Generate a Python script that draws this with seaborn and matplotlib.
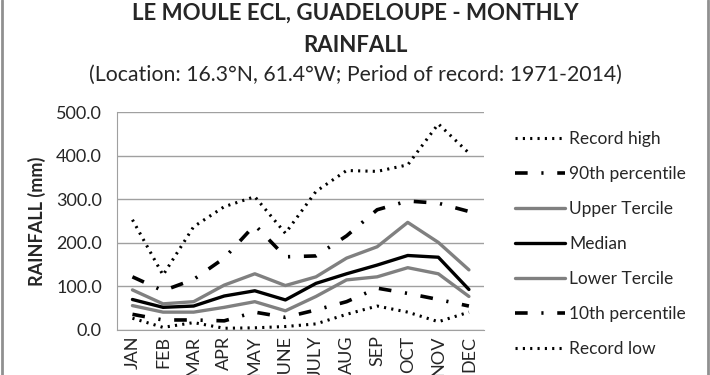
import pandas as pd
import seaborn as sns
import matplotlib.pyplot as plt
from matplotlib.lines import Line2D

# monthly values (mm)
months = ['JAN', 'FEB', 'MAR', 'APR', 'MAY', 'JUNE', 'JULY', 'AUG', 'SEP', 'OCT', 'NOV', 'DEC']
record_high = [253, 126, 237, 283, 306, 222, 318, 366, 364, 379, 473, 406]
pct90 = [122, 90, 116, 165, 241, 168, 170, 216, 276, 296, 291, 272]
upper_tercile = [92, 60, 65, 103, 129, 102, 122, 165, 191, 247, 201, 138]
median = [70, 52, 55, 78, 90, 69, 107, 129, 149, 171, 167, 93]
lower_tercile = [56, 41, 41, 52, 65, 44, 77, 115, 122, 143, 129, 77]
pct10 = [36, 23, 23, 21, 41, 29, 46, 65, 96, 84, 70, 55]
record_low = [27, 6, 17, 4, 5, 8, 14, 36, 55, 41, 19, 41]

series_names = ['Record high', '90th percentile', 'Upper Tercile', 'Median',
                'Lower Tercile', '10th percentile', 'Record low']
series_vals = [record_high, pct90, upper_tercile, median, lower_tercile, pct10, record_low]

df = pd.DataFrame({'Month': months * len(series_names),
                   'Series': [n for n in series_names for _ in months],
                   'Rainfall': [v for vals in series_vals for v in vals]})

sns.set_style('white')
plt.rcParams['font.family'] = ['Lato', 'DejaVu Sans']

# line look per series
styles = {
    'Record high': dict(color='black', lw=2.2, dashes=(0.7, 1.7)),
    '90th percentile': dict(color='black', lw=2.6, dashes=(3.5, 3.8, 0.6, 3.8)),
    'Upper Tercile': dict(color='#808080', lw=2.4, dashes=None),
    'Median': dict(color='black', lw=2.4, dashes=None),
    'Lower Tercile': dict(color='#808080', lw=2.4, dashes=None),
    '10th percentile': dict(color='black', lw=2.6, dashes=(3.5, 3.8, 0.6, 3.8)),
    'Record low': dict(color='black', lw=2.2, dashes=(0.7, 1.7)),
}

fig = plt.figure(figsize=(7.1, 3.75), dpi=100)
ax = fig.add_axes([0.165, 0.12, 0.517, 0.581])

handles = []
for name in series_names:
    st = styles[name]
    sub = df[df['Series'] == name]
    sns.lineplot(data=sub, x='Month', y='Rainfall', ax=ax, color=st['color'],
                 linewidth=st['lw'], sort=False)
    line = ax.lines[-1]
    if st['dashes'] is not None:
        line.set_dashes(st['dashes'])
    h = Line2D([], [], color=st['color'], lw=st['lw'])
    if st['dashes'] is not None:
        h.set_dashes(st['dashes'])
    handles.append(h)

ax.set_ylim(0, 500)
ax.set_xlim(-0.5, 11.5)
ax.set_yticks([0, 100, 200, 300, 400, 500])
ax.set_yticklabels([f'{v:.1f}' for v in [0, 100, 200, 300, 400, 500]], fontsize=13)
ax.tick_params(axis='x', labelrotation=90, labelsize=13, length=0, pad=4)
ax.tick_params(axis='y', length=0, pad=11)
ax.grid(axis='y', color='#a0a0a0', lw=1)
ax.set_axisbelow(True)
for s in ['top', 'right']:
    ax.spines[s].set_visible(False)
for s in ['left', 'bottom']:
    ax.spines[s].set_color('#a0a0a0')
ax.set_xlabel('')
ax.set_ylabel('RAINFALL (mm)', fontsize=13, fontweight='bold', labelpad=7)

fig.legend(handles, series_names, loc='upper left', bbox_to_anchor=(0.703, 0.693),
           frameon=False, fontsize=12.5, handlelength=2.9, handletextpad=0.25,
           labelspacing=1.1)

fig.text(0.5, 0.965, 'LE MOULE ECL, GUADELOUPE - MONTHLY', ha='center', va='center',
         fontsize=16, fontweight='bold')
fig.text(0.5, 0.88, 'RAINFALL', ha='center', va='center', fontsize=16, fontweight='bold')
fig.text(0.5, 0.80, '(Location: 16.3°N, 61.4°W; Period of record: 1971-2014)',
         ha='center', va='center', fontsize=15.3)

# grey frame edges at the sides
fig.add_artist(Line2D([0.003, 0.003], [0, 1], color='#909090', lw=2, transform=fig.transFigure))
fig.add_artist(Line2D([0.997, 0.997], [0, 1], color='#909090', lw=2, transform=fig.transFigure))

plt.savefig('out.png', dpi=100)
